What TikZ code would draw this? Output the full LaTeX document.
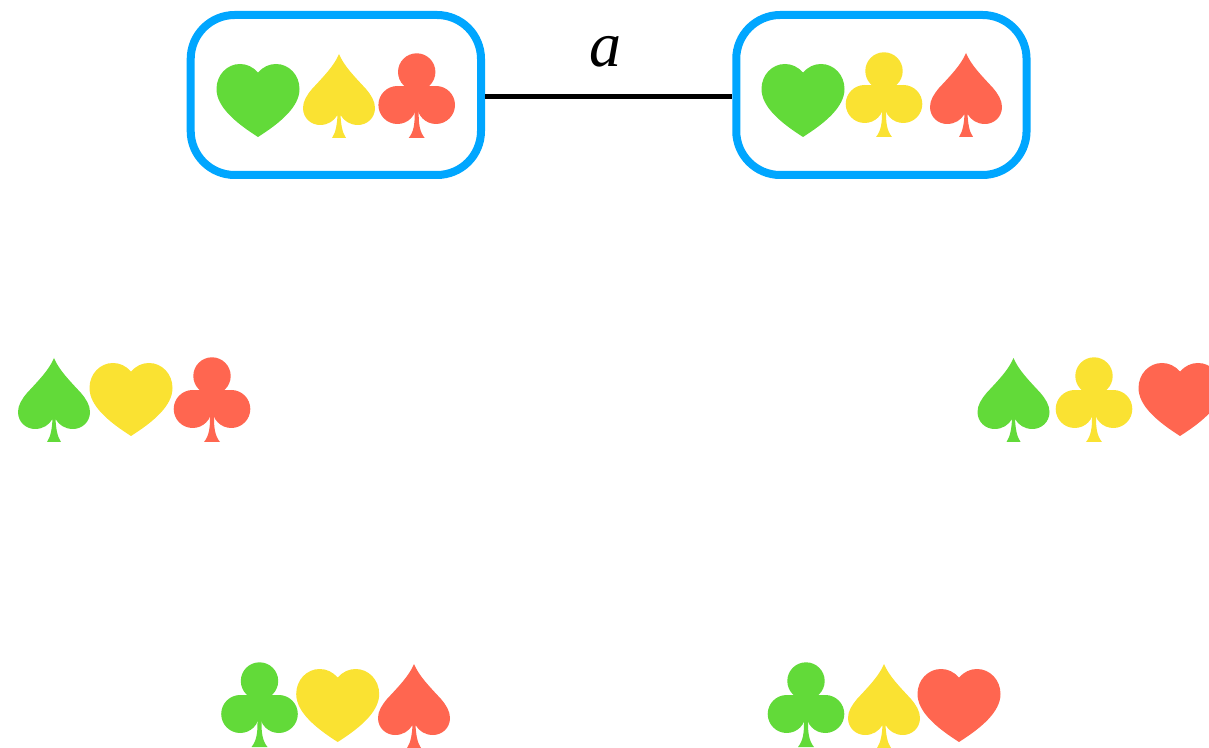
\documentclass[tikz,border=0pt]{standalone}
\usepackage{fontspec}
\setmainfont{Liberation Serif}
\definecolor{suitgreen}{HTML}{62DA39}
\definecolor{suityellow}{HTML}{FAE232}
\definecolor{suitred}{HTML}{FF6650}
\definecolor{boxblue}{HTML}{00A6FF}
\tikzset{
  heartsuit/.pic={\fill[pic actions] (0,64.5) .. controls (5,70) and (11,73) .. (18,73)
    .. controls (31,73) and (41.5,62) .. (41.5,48)
    .. controls (41.5,30) and (22,14) .. (0,0)
    .. controls (-22,14) and (-41.5,30) .. (-41.5,48)
    .. controls (-41.5,62) and (-31,73) .. (-18,73)
    .. controls (-11,73) and (-5,70) .. (0,64.5) -- cycle;},
  spadesuit/.pic={\fill[pic actions] (0,84) .. controls (5,72) and (15,62) .. (27,49)
    .. controls (32,43) and (36,37) .. (36,30)
    .. controls (36,20) and (28,13) .. (19,13)
    .. controls (11,13) and (5,17) .. (1.5,23)
    .. controls (2,14) and (3,6) .. (7,0) -- (-7,0)
    .. controls (-3,6) and (-2,14) .. (-1.5,23)
    .. controls (-5,17) and (-11,13) .. (-19,13)
    .. controls (-28,13) and (-36,20) .. (-36,30)
    .. controls (-36,37) and (-32,43) .. (-27,49)
    .. controls (-15,62) and (-5,72) .. (0,84) -- cycle;},
  clubsuit/.pic={\fill[pic actions] (0,66) circle[radius=18.7] (-19.3,33) circle[radius=19] (19.3,33) circle[radius=19];
    \fill[pic actions] (-19.3,33) -- (-19.3,52) -- (19.3,52) -- (19.3,33) -- cycle;
    \fill[pic actions] (-2,34) -- (2,34) -- (2,24) .. controls (2,14) and (3,6) .. (8,0) -- (-8,0)
    .. controls (-3,6) and (-2,14) .. (-2,24) -- cycle;},
  cardbox/.style={draw=boxblue,line width=8pt,rounded corners=44pt,minimum width=290.3pt,minimum height=160pt,inner sep=0pt,outer sep=0pt},
  edgeline/.style={draw=black,line width=5.5pt},
  edgelabel/.style={font=\itshape\fontsize{64}{64}\selectfont,inner sep=0pt},
}
\begin{document}
\begin{tikzpicture}[x=1pt,y=1pt]
\useasboundingbox (0,0) rectangle (1209,747);
\node[cardbox] (left) at (335.85,652) {};
\node[cardbox] (right) at (881.4,652) {};
\draw[edgeline] ([xshift=4pt,yshift=-1.5pt]left.east) -- ([xshift=-4pt,yshift=-1.5pt]right.west);
\node[edgelabel] (lab) at (605.5,695) {a};
% top row
\pic[fill=suitgreen] at (258,610) {heartsuit};
\pic[fill=suityellow] at (339,609) {spadesuit};
\pic[fill=suitred] at (416.7,609) {clubsuit};
\pic[fill=suitgreen] at (803,610) {heartsuit};
\pic[fill=suityellow] at (884,610) {clubsuit};
\pic[fill=suitred] at (966,610) {spadesuit};
% middle row
\pic[fill=suitgreen] at (54,305) {spadesuit};
\pic[fill=suityellow] at (131,311) {heartsuit};
\pic[fill=suitred] at (212,305) {clubsuit};
\pic[fill=suitgreen] at (1013.5,305) {spadesuit};
\pic[fill=suityellow] at (1094,305) {clubsuit};
\pic[fill=suitred] at (1180,311) {heartsuit};
% bottom row
\pic[fill=suitgreen] at (259.5,0) {clubsuit};
\pic[fill=suityellow] at (337.7,5) {heartsuit};
\pic[fill=suitred] at (414,-1) {spadesuit};
\pic[fill=suitgreen] at (806,0) {clubsuit};
\pic[fill=suityellow] at (884,-1) {spadesuit};
\pic[fill=suitred] at (959,5) {heartsuit};
\end{tikzpicture}
\end{document}
